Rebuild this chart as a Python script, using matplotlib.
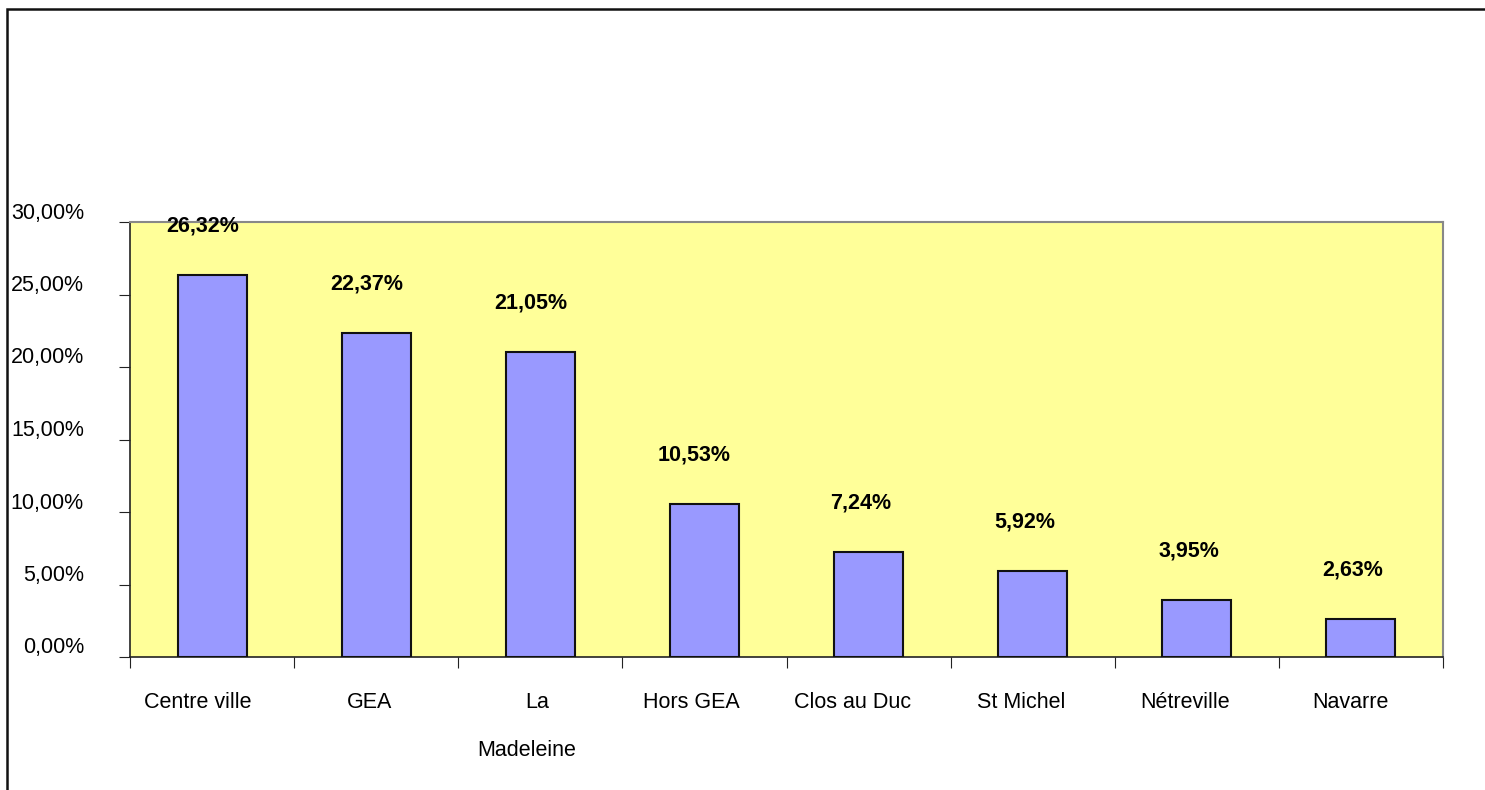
import matplotlib.pyplot as plt
import matplotlib.transforms as mtransforms
from matplotlib.patches import Rectangle

plt.rcParams['font.family'] = ['Liberation Sans', 'DejaVu Sans']

quartiers = ['Centre ville', 'GEA', 'La\n\nMadeleine', 'Hors GEA', 'Clos au Duc',
             'St Michel', 'Nétreville', 'Navarre']
parts = [26.32, 22.37, 21.05, 10.53, 7.24, 5.92, 3.95, 2.63]
yticks = [0, 5, 10, 15, 20, 25, 30]

FS = 15.5
PX = 72 / 100  # points per pixel
SKEW = 0.135   # labels sit slightly left of centre, proportional to their width


def pct(v):
    return f'{v:.2f}%'.replace('.', ',')


fig = plt.figure(figsize=(14.85, 7.9), dpi=100)
ax = fig.add_axes([130 / 1485, 1 - 657 / 790, 1313 / 1485, 435 / 790])
renderer = fig.canvas.get_renderer()

# chart frame (only left and top edges visible)
fig.patches.append(Rectangle((7 / 1485, -0.1), 1.2, 1 - 9 / 790 + 0.1,
                             transform=fig.transFigure, fill=False,
                             edgecolor='#111111', linewidth=1.8))

ax.set_facecolor('#FFFF99')
x = range(len(parts))
ax.bar(x, parts, width=0.42, color='#9999FF', edgecolor='#111111', linewidth=1.5, zorder=3)
ax.set_xlim(-0.5, len(parts) - 0.5)
ax.set_ylim(0, 30)


def label(xd, yd, s, base, dy, **kw):
    t = ax.text(xd, yd, s, ha='center', va='center', fontsize=FS, zorder=4,
                clip_on=False, **kw)
    t.set_transform(mtransforms.offset_copy(base, fig=fig, x=0, y=dy * PX, units='points'))
    w = t.get_window_extent(renderer).width
    t.set_transform(mtransforms.offset_copy(base, fig=fig, x=-SKEW * w * PX,
                                            y=dy * PX, units='points'))
    return t


# value labels above each bar
for xi, v in zip(x, parts):
    label(xi, v, pct(v), ax.transData, 49, fontweight='bold')

# category names under the axis, one text per line
for xi, name in zip(x, quartiers):
    for k, line in enumerate(name.split('\n')):
        if line:
            label(xi, 0, line, ax.get_xaxis_transform(), -45 - 24.5 * k)

# y labels sit a little above their ticks
ax.set_yticks(yticks)
ax.set_yticklabels([])
ylab = mtransforms.offset_copy(ax.get_yaxis_transform(), fig=fig,
                               x=-46 * PX, y=9 * PX, units='points')
for t in yticks:
    ax.text(0, t, pct(t), transform=ylab, ha='right', va='center', fontsize=FS)

ax.set_xticks([i - 0.5 for i in range(len(parts) + 1)])
ax.set_xticklabels([])
ax.tick_params(axis='x', length=8, direction='out', color='#222222')
ax.tick_params(axis='y', length=8, direction='out', color='#222222')

for side in ['top', 'right']:
    ax.spines[side].set_color('#888888')
    ax.spines[side].set_linewidth(1.5)
for side in ['left', 'bottom']:
    ax.spines[side].set_color('#222222')
    ax.spines[side].set_linewidth(1.2)

fig.savefig('out.png', dpi=100)
